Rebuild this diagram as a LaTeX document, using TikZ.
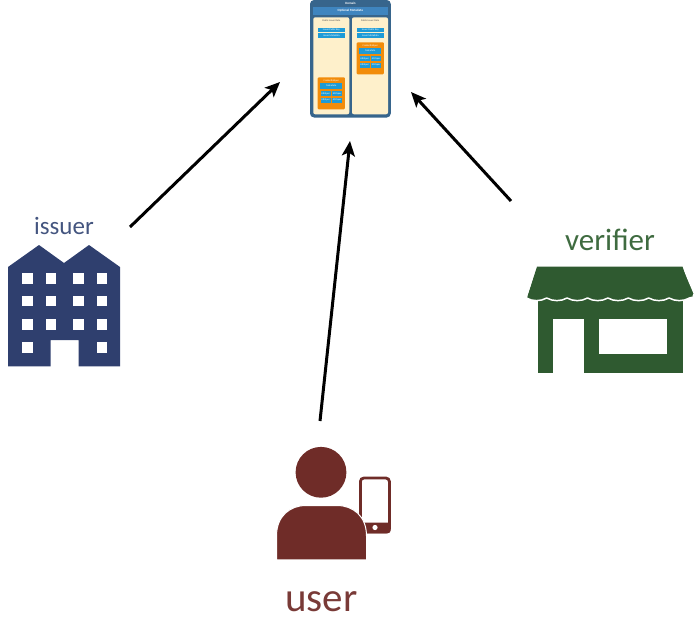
\documentclass[tikz,border=0pt]{standalone}
\usepackage{fontspec}
\setmainfont{Carlito}
\usetikzlibrary{arrows.meta}
\definecolor{issuerc}{HTML}{2F3F6E}
\definecolor{issuert}{HTML}{44557F}
\definecolor{verifc}{HTML}{2F5A30}
\definecolor{verift}{HTML}{3F6B40}
\definecolor{userc}{HTML}{6F2C28}
\definecolor{usert}{HTML}{793A37}
\definecolor{domc}{HTML}{37658C}
\definecolor{metac}{HTML}{3F85BF}
\definecolor{colc}{HTML}{FEF0CB}
\definecolor{barc}{HTML}{1E9BD7}
\definecolor{orgc}{HTML}{F28C0A}
\tikzset{
  flow/.style={line width=3pt,-{Stealth[length=15pt,width=13pt,inset=3.5pt]}},
  lab/.style={inner sep=0pt,anchor=base},
  tiny/.style={inner sep=0pt,font=\fontsize{2.5}{2.7}\selectfont,text=white},
  tinyb/.style={inner sep=0pt,font=\fontsize{3.2}{3.4}\bfseries\selectfont,text=white},
  tinyd/.style={inner sep=0pt,font=\fontsize{2.5}{2.7}\selectfont,text=black!70},
  win/.style={fill=white},
  bluebar/.style={fill=barc},
}
\newcommand{\credbox}[3]{% x, y, prefix
  \begin{scope}[shift={(#1,#2)}]
    \fill[orgc,rounded corners=1pt] (0,0) rectangle (27.2,32) node[pos=.5,yshift=12.6pt,tiny] (#3spec) {CredentialSpec};
    \path[bluebar] (2.5,6) rectangle (24.7,11.4) node[pos=.5,tiny] (#3meta) {Metadata};
    \path[bluebar] (3,13.7) rectangle (13,18.7) node[pos=.5,tiny] (#3a) {AttrSpec};
    \path[bluebar] (14.3,13.7) rectangle (24.5,18.7) node[pos=.5,tiny] (#3b) {AttrSpec};
    \path[bluebar] (3,20.4) rectangle (13,25.4) node[pos=.5,tiny] (#3c) {AttrSpec};
    \path[bluebar] (14.3,20.4) rectangle (24.5,25.4) node[pos=.5,tiny] (#3d) {AttrSpec};
  \end{scope}}
\begin{document}
\begin{tikzpicture}[x=1pt,y=-1pt]
\useasboundingbox (0,0) rectangle (694,621);
% ---------- Domain panel
\fill[domc,rounded corners=4pt] (310,0) rectangle (390.8,117.5);
\node[tinyb,anchor=center] (domain) at (350.5,3.4) {Domain};
\path[fill=metac] (313,7) rectangle (387.5,14.5) node[pos=.5,tinyb] (optmeta) {Optional Metadata};
\fill[colc,rounded corners=2pt] (313.3,17.3) rectangle (349.3,114.3);
\fill[colc,rounded corners=2pt] (352,17.3) rectangle (388,114.3);
\node[tinyd] (pubL) at (331.3,20.5) {Public Issuer Data};
\node[tinyd] (pubR) at (370,20.5) {Public Issuer Data};
\path[bluebar] (317.7,28) rectangle (345,32.3) node[pos=.5,tiny] (keyL) {Issuer Public Key};
\path[bluebar] (317.7,33.3) rectangle (345,37.7) node[pos=.5,tiny] (mdL) {Issuer Metadata};
\path[bluebar] (356.7,28) rectangle (383.8,32.3) node[pos=.5,tiny] (keyR) {Issuer Public Key};
\path[bluebar] (356.7,33.3) rectangle (383.8,37.7) node[pos=.5,tiny] (mdR) {Issuer Metadata};
\credbox{317.7}{77.3}{L}
\credbox{356.7}{42.3}{R}
% ---------- issuer building
\fill[issuerc] (8,267) -- (39,245) -- (64,263) -- (89,245) -- (120,267) -- (120,366.3) -- (78.7,366.3) -- (78.7,340) -- (50.7,340) -- (50.7,366.3) -- (8,366.3) -- cycle;
\foreach \x in {22.3,45.6,73.2,96.6}
  \foreach \y in {273,295.8,319}
    \fill[win] (\x,\y) rectangle ++(10.6,10.6);
\fill[win] (22.3,342) rectangle ++(10.6,10.6);
\fill[win] (96.6,342) rectangle ++(10.6,10.6);
\node[lab,text=issuert,font=\fontsize{25}{25}\selectfont] (issuer) at (64,234) {issuer};
% ---------- verifier shop
\fill[verifc] (538.3,299) rectangle (682.7,373.3);
\fill[white] (553.3,318.7) rectangle (584.3,373.5);
\fill[white] (599.3,318.7) rectangle (667.3,354);
\path[fill=verifc,draw=white,line width=1.5pt,line join=round]
  (536.7,266.2) -- (682.7,266.2) -- (694.3,293.5) .. controls (694.8,296) and (692,297.5) .. (689.5,298)
  \foreach \i in {1,...,8} {
     .. controls ({689.5-(\i-1)*20.4-6},{301.5}) and ({689.5-\i*20.4+6},{301.5}) .. ({689.5-\i*20.4},{298})
  }
  -- cycle;
\path[fill=verifc] (527.5,296.5) -- (537,266.7) -- (682.5,266.7) -- (692.5,296.5) -- cycle;
\node[lab,text=verift,font=\fontsize{31}{31}\selectfont] (verifier) at (610,250) {verif{}ier};
% ---------- user
\draw[userc,line width=2.8pt,rounded corners=3.5pt,fill=white] (360.4,478) rectangle (389.4,532);
\fill[userc,rounded corners=3pt] (359,522.7) rectangle (390.7,533.3);
\fill[white] (375,527.5) circle (2.6pt);
\path[fill=userc,draw=white,line width=1pt]
  (276.5,559.8) -- (276.5,536) .. controls (276.5,516) and (290,505.5) .. (306,505.5)
  -- (337,505.5) .. controls (353,505.5) and (366.5,516) .. (366.5,536) -- (366.5,559.8) -- cycle;
\fill[userc] (321,472.3) circle (25.4pt);
\node[lab,text=usert,font=\fontsize{41}{41}\selectfont] (user) at (321.5,611) {user};
% ---------- connectors
\coordinate (issuerout) at (130,227);
\coordinate (domainL) at (280,82);
\coordinate (userout) at (320,421);
\coordinate (domainB) at (350,141);
\coordinate (verifout) at (511,201);
\coordinate (domainR) at (411,92);
\draw[flow] (issuerout) -- (domainL);
\draw[flow] (userout) -- (domainB);
\draw[flow] (verifout) -- (domainR);
\end{tikzpicture}
\end{document}
